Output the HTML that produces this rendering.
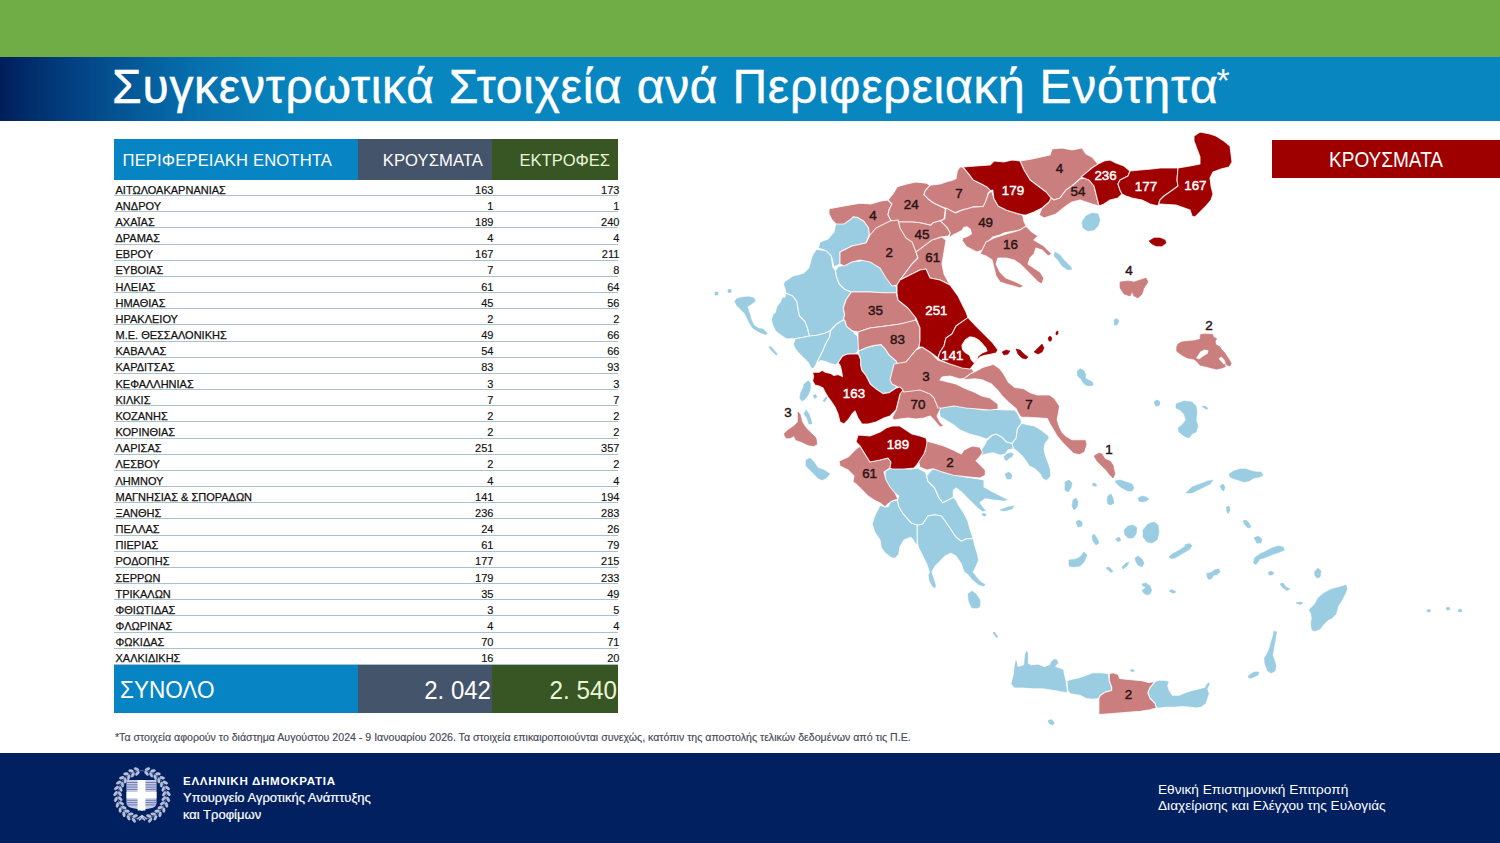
<!DOCTYPE html>
<html><head><meta charset="utf-8">
<style>
*{margin:0;padding:0;box-sizing:border-box}
html,body{width:1500px;height:843px;overflow:hidden;background:#fff;font-family:"Liberation Sans",sans-serif}
#green{position:absolute;left:0;top:0;width:1500px;height:57px;background:#70ad47}
#band{position:absolute;left:0;top:57px;width:1500px;height:63.7px;background:linear-gradient(90deg,#011d5b 0px,#012d6b 30px,#033f80 70px,#044e8e 105px,#055f9e 150px,#0770ae 200px,#0780ba 270px,#0786c0 340px,#0786c0 1500px)}
#title{position:absolute;left:112px;top:59px;font-size:48px;color:#fff;white-space:nowrap;letter-spacing:0.73px;line-height:56px;-webkit-text-stroke:0.45px #fff}
#title sup{font-size:34px;position:relative;top:1px;vertical-align:top;margin-left:-2px;line-height:40px;-webkit-text-stroke:0}
#th{position:absolute;left:114px;top:139px;width:504px;height:41px}
#th div{position:absolute;top:0;height:41px;color:#fff;font-size:16.6px;line-height:43px;white-space:nowrap}
.r{position:absolute;left:114px;width:504px;height:16.17px;border-bottom:1px solid #a9c0ce;font-size:11px;color:#111;line-height:16px}
.r span{position:absolute;top:1.5px}
.r .n{left:1.5px;-webkit-text-stroke:0.25px #111}
.r .a{right:124.6px;text-align:right;-webkit-text-stroke:0.15px #111}
.r .b{right:-1.4px;text-align:right;-webkit-text-stroke:0.15px #111}
#tot{position:absolute;left:114px;top:665px;width:504px;height:48px}
#tot div{position:absolute;top:0;height:48px;color:#fff;line-height:50px;white-space:nowrap}
#note{position:absolute;left:115px;top:731px;font-size:10.6px;color:#454a58;white-space:nowrap;-webkit-text-stroke:0.15px #454a58}
#foot{position:absolute;left:0;top:753px;width:1500px;height:90px;background:#00205f}
#legend{position:absolute;left:1272px;top:140px;width:228px;height:38px;background:#9e0000;}
#legend span{position:absolute;left:1329px;top:0;color:#fff;font-size:21.5px;line-height:40px;white-space:nowrap;transform-origin:0 0;transform:scaleX(0.885);left:57px}
.ft{position:absolute;color:#fff;white-space:nowrap}
#map{position:absolute;left:0;top:0}
</style></head><body>
<div id="green"></div>
<div id="band"></div>
<div id="title">Συγκεντρωτικά Στοιχεία ανά Περιφερειακή Ενότητα<sup>*</sup></div>
<div id="th">
 <div style="left:0;width:244px;background:#0784c3;padding-left:8.5px;letter-spacing:0.15px">ΠΕΡΙΦΕΡΕΙΑΚΗ ΕΝΟΤΗΤΑ</div>
 <div style="left:244px;width:134px;background:#44546a;text-align:right;padding-right:9px;letter-spacing:0.08px">ΚΡΟΥΣΜΑΤΑ</div>
 <div style="left:378px;width:126px;background:#375623;text-align:right;padding-right:8px;color:#eaf5d8;letter-spacing:-0.05px">ΕΚΤΡΟΦΕΣ</div>
</div>
<div class="r" style="top:180.00px"><span class="n">ΑΙΤΩΛΟΑΚΑΡΝΑΝΙΑΣ</span><span class="a">163</span><span class="b">173</span></div>
<div class="r" style="top:196.17px"><span class="n">ΑΝΔΡΟΥ</span><span class="a">1</span><span class="b">1</span></div>
<div class="r" style="top:212.33px"><span class="n">ΑΧΑΪΑΣ</span><span class="a">189</span><span class="b">240</span></div>
<div class="r" style="top:228.50px"><span class="n">ΔΡΑΜΑΣ</span><span class="a">4</span><span class="b">4</span></div>
<div class="r" style="top:244.67px"><span class="n">ΕΒΡΟΥ</span><span class="a">167</span><span class="b">211</span></div>
<div class="r" style="top:260.83px"><span class="n">ΕΥΒΟΙΑΣ</span><span class="a">7</span><span class="b">8</span></div>
<div class="r" style="top:277.00px"><span class="n">ΗΛΕΙΑΣ</span><span class="a">61</span><span class="b">64</span></div>
<div class="r" style="top:293.17px"><span class="n">ΗΜΑΘΙΑΣ</span><span class="a">45</span><span class="b">56</span></div>
<div class="r" style="top:309.33px"><span class="n">ΗΡΑΚΛΕΙΟΥ</span><span class="a">2</span><span class="b">2</span></div>
<div class="r" style="top:325.50px"><span class="n">Μ.Ε. ΘΕΣΣΑΛΟΝΙΚΗΣ</span><span class="a">49</span><span class="b">66</span></div>
<div class="r" style="top:341.67px"><span class="n">ΚΑΒΑΛΑΣ</span><span class="a">54</span><span class="b">66</span></div>
<div class="r" style="top:357.83px"><span class="n">ΚΑΡΔΙΤΣΑΣ</span><span class="a">83</span><span class="b">93</span></div>
<div class="r" style="top:374.00px"><span class="n">ΚΕΦΑΛΛΗΝΙΑΣ</span><span class="a">3</span><span class="b">3</span></div>
<div class="r" style="top:390.17px"><span class="n">ΚΙΛΚΙΣ</span><span class="a">7</span><span class="b">7</span></div>
<div class="r" style="top:406.33px"><span class="n">ΚΟΖΑΝΗΣ</span><span class="a">2</span><span class="b">2</span></div>
<div class="r" style="top:422.50px"><span class="n">ΚΟΡΙΝΘΙΑΣ</span><span class="a">2</span><span class="b">2</span></div>
<div class="r" style="top:438.67px"><span class="n">ΛΑΡΙΣΑΣ</span><span class="a">251</span><span class="b">357</span></div>
<div class="r" style="top:454.83px"><span class="n">ΛΕΣΒΟΥ</span><span class="a">2</span><span class="b">2</span></div>
<div class="r" style="top:471.00px"><span class="n">ΛΗΜΝΟΥ</span><span class="a">4</span><span class="b">4</span></div>
<div class="r" style="top:487.17px"><span class="n">ΜΑΓΝΗΣΙΑΣ &amp; ΣΠΟΡΑΔΩΝ</span><span class="a">141</span><span class="b">194</span></div>
<div class="r" style="top:503.33px"><span class="n">ΞΑΝΘΗΣ</span><span class="a">236</span><span class="b">283</span></div>
<div class="r" style="top:519.50px"><span class="n">ΠΕΛΛΑΣ</span><span class="a">24</span><span class="b">26</span></div>
<div class="r" style="top:535.67px"><span class="n">ΠΙΕΡΙΑΣ</span><span class="a">61</span><span class="b">79</span></div>
<div class="r" style="top:551.83px"><span class="n">ΡΟΔΟΠΗΣ</span><span class="a">177</span><span class="b">215</span></div>
<div class="r" style="top:568.00px"><span class="n">ΣΕΡΡΩΝ</span><span class="a">179</span><span class="b">233</span></div>
<div class="r" style="top:584.17px"><span class="n">ΤΡΙΚΑΛΩΝ</span><span class="a">35</span><span class="b">49</span></div>
<div class="r" style="top:600.33px"><span class="n">ΦΘΙΩΤΙΔΑΣ</span><span class="a">3</span><span class="b">5</span></div>
<div class="r" style="top:616.50px"><span class="n">ΦΛΩΡΙΝΑΣ</span><span class="a">4</span><span class="b">4</span></div>
<div class="r" style="top:632.67px"><span class="n">ΦΩΚΙΔΑΣ</span><span class="a">70</span><span class="b">71</span></div>
<div class="r" style="top:648.83px"><span class="n">ΧΑΛΚΙΔΙΚΗΣ</span><span class="a">16</span><span class="b">20</span></div>
<div id="tot">
 <div style="left:0;width:244px;background:#0784c3;padding-left:6px;font-size:24.5px;"><span style="display:inline-block;transform:scaleX(0.92);transform-origin:0 0">ΣΥΝΟΛΟ</span></div>
 <div style="left:244px;width:134px;background:#44546a;"><span style="position:absolute;right:1px;font-size:25.5px;transform:scaleX(0.94);transform-origin:100% 0">2. 042</span></div>
 <div style="left:378px;width:126px;background:#375623;color:#eaf5d8"><span style="position:absolute;right:1px;font-size:25.5px;transform:scaleX(0.95);transform-origin:100% 0">2. 540</span></div>
</div>
<div id="note">*Τα στοιχεία αφορούν το διάστημα Αυγούστου 2024 - 9 Ιανουαρίου 2026. Τα στοιχεία επικαιροποιούνται συνεχώς, κατόπιν της αποστολής τελικών δεδομένων από τις Π.Ε.</div>
<svg id="map" width="1500" height="843" viewBox="0 0 1500 843">
<g stroke="#fff" stroke-width="1.1" stroke-opacity="0.8" stroke-linejoin="round">
<path d="M836.0,222.0 846.0,219.5 853.3,216.7 857.3,217.3 864.0,221.3 868.7,228.0 869.3,234.7 866.0,243.0 852.0,246.0 840.0,252.0 840.0,264.0 834.0,267.0 832.0,258.0 824.0,250.0 818.0,248.0 820.0,242.0 828.0,239.0 834.0,232.0Z" fill="#9bcde2"/>
<path d="M1082.0,222.0 1086.0,216.0 1092.0,213.0 1098.0,214.0 1100.0,220.0 1098.0,226.0 1094.0,230.0 1088.0,231.0 1083.0,228.0Z" fill="#9bcde2" stroke="#9bcde2" stroke-width="0.6" stroke-opacity="1"/>
<path d="M1055.0,252.0 1060.0,255.0 1064.0,260.0 1070.0,266.0 1072.0,269.0 1068.0,270.0 1062.0,266.0 1058.0,260.0 1054.0,256.0Z" fill="#9bcde2" stroke="#9bcde2" stroke-width="0.6" stroke-opacity="1"/>
<path d="M806.0,410.0 809.0,414.0 811.0,420.0 812.0,424.0 809.0,424.0 807.0,418.0 804.0,414.0Z" fill="#9bcde2" stroke="#9bcde2" stroke-width="0.6" stroke-opacity="1"/>
<path d="M806.0,460.0 810.0,458.0 814.0,462.0 818.0,468.0 824.0,470.0 830.0,474.0 826.0,478.0 822.0,480.0 818.0,478.0 814.0,474.0 810.0,470.0 806.0,466.0Z" fill="#9bcde2" stroke="#9bcde2" stroke-width="0.6" stroke-opacity="1"/>
<path d="M1077.1,371.2 1080.2,368.7 1083.9,370.6 1085.8,374.9 1085.2,378.0 1088.3,379.9 1092.0,381.8 1093.3,384.9 1089.5,386.1 1085.8,384.9 1083.3,383.0 1080.8,378.7 1077.7,376.2Z" fill="#9bcde2" stroke="#9bcde2" stroke-width="0.6" stroke-opacity="1"/>
<path d="M1114.0,320.0 1117.0,318.4 1119.0,321.0 1117.0,325.0 1114.4,325.0Z" fill="#9bcde2" stroke="#9bcde2" stroke-width="0.6" stroke-opacity="1"/>
<path d="M1154.0,402.0 1157.0,400.0 1159.6,402.0 1159.0,405.0 1156.0,406.0Z" fill="#9bcde2" stroke="#9bcde2" stroke-width="0.6" stroke-opacity="1"/>
<path d="M968.0,594.0 972.0,591.0 976.0,594.0 980.0,600.0 980.0,606.0 978.0,608.0 972.0,608.0 969.0,602.0Z" fill="#9bcde2" stroke="#9bcde2" stroke-width="0.6" stroke-opacity="1"/>
<path d="M1005.0,474.0 1009.0,472.0 1012.0,475.0 1011.0,479.0 1007.0,479.0Z" fill="#9bcde2" stroke="#9bcde2" stroke-width="0.6" stroke-opacity="1"/>
<path d="M1000.0,510.0 1008.0,507.0 1014.0,506.0 1012.0,509.0 1004.0,511.0Z" fill="#9bcde2" stroke="#9bcde2" stroke-width="0.6" stroke-opacity="1"/>
<path d="M981.6,514.4 984.0,513.2 986.4,514.8 984.4,516.4Z" fill="#9bcde2" stroke="#9bcde2" stroke-width="0.6" stroke-opacity="1"/>
<path d="M1065.0,482.0 1069.0,480.0 1072.0,483.0 1071.0,488.0 1068.0,492.0 1065.0,490.0Z" fill="#9bcde2" stroke="#9bcde2" stroke-width="0.6" stroke-opacity="1"/>
<path d="M1073.0,500.0 1076.0,498.0 1078.0,502.0 1077.0,507.0 1074.0,510.0 1072.0,506.0Z" fill="#9bcde2" stroke="#9bcde2" stroke-width="0.6" stroke-opacity="1"/>
<path d="M1076.0,522.0 1079.0,520.0 1082.0,522.0 1082.0,526.0 1078.0,527.0Z" fill="#9bcde2" stroke="#9bcde2" stroke-width="0.6" stroke-opacity="1"/>
<path d="M1092.0,536.0 1094.0,534.0 1097.0,538.0 1099.0,543.0 1096.0,545.0 1093.0,541.0Z" fill="#9bcde2" stroke="#9bcde2" stroke-width="0.6" stroke-opacity="1"/>
<path d="M1069.0,560.0 1076.0,559.0 1080.0,557.0 1084.0,552.0 1087.0,555.0 1084.0,562.0 1080.0,566.0 1074.0,567.0 1069.0,566.0Z" fill="#9bcde2" stroke="#9bcde2" stroke-width="0.6" stroke-opacity="1"/>
<path d="M1106.0,568.0 1109.0,567.0 1113.0,571.0 1111.0,572.4Z" fill="#9bcde2" stroke="#9bcde2" stroke-width="0.6" stroke-opacity="1"/>
<path d="M1176.0,404.0 1184.0,401.0 1192.0,402.0 1196.0,406.0 1197.0,412.0 1196.0,420.0 1198.0,426.0 1196.0,432.0 1192.0,434.0 1189.0,438.0 1184.0,436.0 1179.0,432.0 1178.0,428.0 1182.0,425.0 1186.0,420.0 1184.0,414.0 1180.0,410.0 1176.0,408.0Z" fill="#9bcde2" stroke="#9bcde2" stroke-width="0.6" stroke-opacity="1"/>
<path d="M1154.4,402.0 1157.0,400.0 1160.0,402.0 1159.0,405.6 1156.0,406.0Z" fill="#9bcde2" stroke="#9bcde2" stroke-width="0.6" stroke-opacity="1"/>
<path d="M1202.0,406.4 1205.0,406.0 1208.0,408.4 1206.0,409.2Z" fill="#9bcde2" stroke="#9bcde2" stroke-width="0.6" stroke-opacity="1"/>
<path d="M1115.0,481.0 1120.0,480.0 1126.0,482.0 1132.0,484.0 1134.0,488.0 1132.0,491.0 1128.0,491.0 1122.0,488.0 1118.0,485.0Z" fill="#9bcde2" stroke="#9bcde2" stroke-width="0.6" stroke-opacity="1"/>
<path d="M1138.0,498.0 1142.0,496.0 1146.0,497.0 1149.0,499.0 1146.0,501.0 1142.0,502.0 1139.0,501.0Z" fill="#9bcde2" stroke="#9bcde2" stroke-width="0.6" stroke-opacity="1"/>
<path d="M1108.0,496.0 1111.0,494.0 1113.0,498.0 1114.0,503.0 1111.0,505.0 1108.0,504.0 1107.0,500.0Z" fill="#9bcde2" stroke="#9bcde2" stroke-width="0.6" stroke-opacity="1"/>
<path d="M1186.0,493.0 1192.0,487.0 1200.0,484.0 1208.0,481.0 1213.0,480.0 1210.0,484.0 1204.0,487.0 1198.0,490.0 1192.0,493.0Z" fill="#9bcde2" stroke="#9bcde2" stroke-width="0.6" stroke-opacity="1"/>
<path d="M1229.0,474.0 1234.0,471.0 1240.0,469.0 1246.0,469.0 1252.0,471.0 1256.0,472.0 1261.0,472.0 1263.0,475.0 1260.0,477.0 1254.0,478.0 1249.0,481.0 1244.0,482.0 1238.0,480.0 1232.0,478.0 1230.0,477.0Z" fill="#9bcde2" stroke="#9bcde2" stroke-width="0.6" stroke-opacity="1"/>
<path d="M1220.0,486.0 1223.0,484.0 1225.0,487.0 1223.6,491.0 1221.6,489.6Z" fill="#9bcde2" stroke="#9bcde2" stroke-width="0.6" stroke-opacity="1"/>
<path d="M1226.4,507.0 1229.0,506.0 1230.0,510.0 1228.4,513.6 1227.0,512.0Z" fill="#9bcde2" stroke="#9bcde2" stroke-width="0.6" stroke-opacity="1"/>
<path d="M1243.0,521.0 1246.0,520.0 1249.0,523.0 1251.0,527.0 1248.0,528.0 1245.0,525.0Z" fill="#9bcde2" stroke="#9bcde2" stroke-width="0.6" stroke-opacity="1"/>
<path d="M1124.0,530.0 1128.0,526.0 1133.0,525.0 1137.0,528.0 1136.0,534.0 1133.0,538.0 1128.0,538.0 1125.0,535.0Z" fill="#9bcde2" stroke="#9bcde2" stroke-width="0.6" stroke-opacity="1"/>
<path d="M1115.6,539.0 1119.0,537.0 1121.0,540.0 1118.0,542.0Z" fill="#9bcde2" stroke="#9bcde2" stroke-width="0.6" stroke-opacity="1"/>
<path d="M1185.0,545.0 1189.0,543.6 1192.0,546.0 1189.0,548.0 1185.6,547.6Z" fill="#9bcde2" stroke="#9bcde2" stroke-width="0.6" stroke-opacity="1"/>
<path d="M1092.0,484.0 1095.0,483.0 1097.0,485.6 1094.0,486.4Z" fill="#9bcde2" stroke="#9bcde2" stroke-width="0.6" stroke-opacity="1"/>
<path d="M1143.0,530.0 1148.0,524.0 1154.0,522.0 1158.0,525.0 1159.0,532.0 1157.0,540.0 1152.0,543.0 1147.0,542.0 1143.0,537.0Z" fill="#9bcde2" stroke="#9bcde2" stroke-width="0.6" stroke-opacity="1"/>
<path d="M1169.0,557.0 1172.0,554.0 1178.0,551.0 1184.0,547.0 1189.0,544.0 1191.6,545.6 1190.0,549.0 1185.0,552.0 1180.0,555.0 1175.0,558.0 1171.0,558.4Z" fill="#9bcde2" stroke="#9bcde2" stroke-width="0.6" stroke-opacity="1"/>
<path d="M1135.0,558.0 1138.0,556.0 1142.0,559.0 1144.0,563.0 1142.0,567.0 1138.0,565.0 1136.0,562.0Z" fill="#9bcde2" stroke="#9bcde2" stroke-width="0.6" stroke-opacity="1"/>
<path d="M1122.0,567.0 1126.0,563.0 1129.0,562.0 1127.0,566.0 1123.0,569.0Z" fill="#9bcde2" stroke="#9bcde2" stroke-width="0.6" stroke-opacity="1"/>
<path d="M1142.0,584.0 1146.0,583.0 1150.0,586.0 1151.6,590.0 1150.4,593.6 1147.0,595.0 1143.6,593.0 1142.0,590.0 1144.4,589.0 1145.6,587.0 1143.0,586.0Z" fill="#9bcde2" stroke="#9bcde2" stroke-width="0.6" stroke-opacity="1"/>
<path d="M1169.0,591.0 1172.0,589.6 1176.0,592.0 1173.0,593.2Z" fill="#9bcde2" stroke="#9bcde2" stroke-width="0.6" stroke-opacity="1"/>
<path d="M1206.0,573.0 1211.0,571.6 1215.0,569.0 1219.0,568.0 1221.0,572.0 1218.0,575.0 1214.0,576.0 1211.6,579.6 1208.0,580.0 1206.4,577.0Z" fill="#9bcde2"/>
<path d="M1253.6,563.0 1254.4,558.0 1260.0,554.0 1266.0,551.0 1272.0,548.0 1278.0,546.0 1283.0,547.0 1284.4,550.0 1280.0,552.0 1274.0,554.0 1269.0,556.0 1264.0,558.0 1260.0,559.0 1258.0,562.0 1256.0,564.4Z" fill="#9bcde2" stroke="#9bcde2" stroke-width="0.6" stroke-opacity="1"/>
<path d="M1254.0,538.0 1258.0,536.0 1262.0,539.0 1261.0,543.0 1257.0,543.0Z" fill="#9bcde2" stroke="#9bcde2" stroke-width="0.6" stroke-opacity="1"/>
<path d="M1268.4,572.4 1271.0,571.0 1274.0,573.0 1272.0,575.0 1269.0,575.0Z" fill="#9bcde2" stroke="#9bcde2" stroke-width="0.6" stroke-opacity="1"/>
<path d="M1280.0,584.0 1283.0,583.0 1286.0,587.0 1290.0,589.0 1287.0,590.4 1283.0,588.0Z" fill="#9bcde2" stroke="#9bcde2" stroke-width="0.6" stroke-opacity="1"/>
<path d="M1314.4,572.0 1318.0,568.0 1321.0,571.0 1320.0,577.0 1317.0,578.0 1315.0,575.6Z" fill="#9bcde2" stroke="#9bcde2" stroke-width="0.6" stroke-opacity="1"/>
<path d="M1296.0,603.0 1300.0,602.0 1303.0,603.0 1300.0,604.4Z" fill="#9bcde2" stroke="#9bcde2" stroke-width="0.6" stroke-opacity="1"/>
<path d="M1309.0,610.0 1315.0,604.0 1318.0,598.0 1324.0,593.0 1332.0,589.0 1340.0,587.0 1346.0,585.0 1347.0,589.0 1345.0,594.0 1342.0,600.0 1338.0,606.0 1336.0,614.0 1332.0,618.0 1328.0,620.0 1324.0,624.0 1320.0,629.0 1315.0,631.0 1312.0,630.0 1311.0,624.0 1312.0,618.0 1311.0,613.0Z" fill="#9bcde2" stroke="#9bcde2" stroke-width="0.6" stroke-opacity="1"/>
<path d="M1274.0,631.0 1276.4,632.0 1275.6,638.0 1274.4,644.0 1273.6,650.0 1272.4,655.0 1274.4,660.0 1276.0,666.0 1275.0,671.0 1271.0,673.0 1267.6,671.0 1265.0,664.0 1264.4,658.0 1267.6,653.0 1269.6,648.0 1271.2,642.0 1273.0,636.0Z" fill="#9bcde2" stroke="#9bcde2" stroke-width="0.6" stroke-opacity="1"/>
<path d="M1248.0,676.0 1254.0,672.0 1259.0,672.0 1258.0,675.0 1252.0,678.0 1249.0,678.0Z" fill="#9bcde2" stroke="#9bcde2" stroke-width="0.6" stroke-opacity="1"/>
<path d="M1010.8,684.1 1013.2,674.4 1014.0,666.4 1015.6,658.4 1017.2,661.6 1018.0,666.4 1023.6,664.8 1024.4,655.2 1026.0,650.4 1028.4,652.0 1028.4,663.2 1031.6,664.8 1038.0,664.0 1044.4,666.4 1049.2,664.8 1050.8,661.6 1054.1,658.4 1057.3,659.2 1058.9,663.2 1055.7,666.4 1060.5,668.0 1063.7,669.6 1064.5,674.4 1066.1,680.8 1066.9,687.3 1067.7,692.9 1062.1,692.1 1054.1,690.5 1042.8,688.9 1033.2,688.9 1022.0,688.1 1014.0,688.1Z" fill="#9bcde2"/>
<path d="M1066.9,680.8 1071.7,679.2 1079.7,677.6 1086.1,675.2 1092.5,672.8 1102.1,672.8 1108.5,673.6 1109.3,680.8 1111.7,687.3 1111.7,690.5 1105.3,692.1 1100.5,695.3 1098.9,698.5 1092.5,699.3 1086.1,698.5 1079.7,695.3 1070.1,693.7 1067.7,690.5Z" fill="#9bcde2"/>
<path d="M1154.9,681.6 1159.7,680.0 1166.1,680.5 1169.3,681.6 1167.7,685.7 1169.3,690.5 1172.5,695.3 1179.0,695.3 1187.0,692.1 1191.8,690.5 1198.2,688.9 1204.6,687.3 1206.2,684.1 1209.4,681.6 1210.2,684.1 1207.8,688.9 1209.4,693.7 1207.8,698.5 1206.2,703.3 1201.4,707.3 1196.6,708.1 1190.2,707.3 1182.2,706.5 1174.1,707.3 1166.1,707.3 1159.7,708.1 1156.5,708.1 1154.9,703.3 1150.1,698.5 1147.7,692.9 1150.1,687.3Z" fill="#9bcde2"/>
<path d="M1048.0,720.6 1051.6,719.6 1054.4,722.8 1052.8,725.0 1049.6,723.8Z" fill="#9bcde2" stroke="#9bcde2" stroke-width="0.6" stroke-opacity="1"/>
<path d="M1130.3,670.0 1132.8,669.3 1134.4,670.9 1132.2,671.9Z" fill="#9bcde2" stroke="#9bcde2" stroke-width="0.6" stroke-opacity="1"/>
<path d="M992.9,632.8 994.8,632.2 997.7,636.7 996.4,637.6Z" fill="#9bcde2" stroke="#9bcde2" stroke-width="0.6" stroke-opacity="1"/>
<path d="M1446.0,608.0 1449.0,607.0 1450.0,609.5 1447.0,610.0Z" fill="#9bcde2" stroke="#9bcde2" stroke-width="0.6" stroke-opacity="1"/>
<path d="M1458.0,610.0 1461.0,609.0 1462.0,611.5 1459.0,612.0Z" fill="#9bcde2" stroke="#9bcde2" stroke-width="0.6" stroke-opacity="1"/>
<path d="M1427.0,610.0 1430.0,609.5 1430.5,611.5 1427.5,612.0Z" fill="#9bcde2" stroke="#9bcde2" stroke-width="0.6" stroke-opacity="1"/>
<path d="M813.0,395.5 815.5,394.5 817.0,397.0 814.5,398.5Z" fill="#9bcde2" stroke="#9bcde2" stroke-width="0.6" stroke-opacity="1"/>
<path d="M823.0,401.0 825.5,397.5 827.5,397.0 825.0,401.5Z" fill="#9bcde2" stroke="#9bcde2" stroke-width="0.6" stroke-opacity="1"/>
<path d="M816.7,249.3 826.0,250.7 831.3,256.0 832.7,266.7 835.3,270.7 836.7,277.3 839.3,284.0 844.7,289.3 851.3,292.0 846.0,300.0 843.3,308.0 844.7,314.7 843.3,320.0 836.7,324.0 830.0,330.7 824.7,333.3 816.7,335.3 809.3,336.0 807.3,328.0 804.7,321.3 799.3,316.0 798.0,309.3 796.7,301.3 792.7,296.0 786.0,293.3 784.7,288.0 783.3,284.0 784.7,281.3 788.7,278.7 792.7,276.0 798.0,274.7 803.3,273.3 806.0,270.7 808.7,268.0 810.0,264.0 811.3,258.7 812.7,254.7 815.3,250.7Z" fill="#9bcde2"/>
<path d="M786.0,293.3 792.7,296.0 796.7,301.3 798.0,309.3 799.3,316.0 804.7,321.3 807.3,328.0 809.3,336.0 803.3,337.3 795.3,338.7 786.0,338.7 782.0,336.0 778.0,333.3 775.3,330.7 772.7,325.3 771.3,320.0 772.7,314.7 775.3,312.0 776.7,306.7 780.7,301.3 782.0,297.3 784.7,297.3Z" fill="#9bcde2"/>
<path d="M835.3,270.7 836.7,277.3 839.3,284.0 844.7,289.3 851.3,292.0 870.0,292.0 883.3,292.7 896.7,292.7 896.7,286.7 894.0,285.3 890.0,280.0 887.3,273.3 882.0,266.7 876.7,262.7 870.0,260.0 864.7,260.0 859.3,261.3 854.0,261.3 848.7,262.7 843.3,265.3 838.0,266.7Z" fill="#9bcde2"/>
<path d="M795.3,338.7 803.3,337.3 809.3,336.0 816.7,335.3 824.7,333.3 830.7,330.7 829.6,337.1 825.4,344.5 823.2,349.9 821.1,354.2 819.0,358.4 816.8,362.7 814.7,367.0 812.6,369.1 810.4,367.0 808.3,362.7 804.0,358.4 800.8,355.2 797.6,352.0 794.4,347.7 793.4,343.5Z" fill="#9bcde2"/>
<path d="M830.7,330.7 836.7,324.0 843.3,320.0 844.6,320.0 846.7,326.4 852.1,330.7 857.4,336.0 858.5,341.3 859.5,346.7 857.4,352.0 855.3,353.6 846.7,354.2 842.5,356.3 838.2,362.7 836.0,364.8 830.7,363.8 825.4,361.6 821.1,360.6 816.8,362.7 819.0,358.4 821.1,354.2 823.2,349.9 825.4,344.5 829.6,337.1Z" fill="#9bcde2"/>
<path d="M858.5,351.0 865.9,347.7 873.4,345.6 880.9,344.5 885.1,348.8 889.4,355.2 895.8,360.6 898.0,364.8 893.7,369.1 894.7,375.5 896.9,381.9 895.8,388.3 889.4,392.6 883.0,393.6 876.6,389.4 870.2,384.0 868.1,379.8 865.9,375.5 861.7,370.2 860.6,364.8 860.6,359.5 858.5,354.2Z" fill="#9bcde2"/>
<path d="M804.0,384.0 808.3,380.8 810.4,383.0 810.4,389.4 808.3,394.7 805.1,399.0 801.9,401.1 799.8,397.9 800.8,392.6 803.0,388.3Z" fill="#9bcde2" stroke="#9bcde2" stroke-width="0.6" stroke-opacity="1"/>
<path d="M768.8,346.7 771.0,346.7 777.4,354.2 776.3,355.2 772.0,351.0Z" fill="#9bcde2" stroke="#9bcde2" stroke-width="0.6" stroke-opacity="1"/>
<path d="M734.7,301.3 736.7,298.7 742.0,297.3 748.7,296.7 754.0,298.0 755.3,301.3 751.3,304.0 747.3,306.7 748.7,310.7 750.0,314.7 751.3,320.0 754.0,325.3 758.0,328.0 763.3,329.3 767.3,333.3 766.0,334.7 762.0,333.3 756.7,330.7 752.7,328.0 750.0,324.0 747.3,318.7 744.7,313.3 739.3,308.0 736.7,305.3Z" fill="#9bcde2" stroke="#9bcde2" stroke-width="0.6" stroke-opacity="1"/>
<path d="M715.0,292.0 718.0,292.0 718.0,295.0 715.0,295.0Z" fill="#9bcde2" stroke="#9bcde2" stroke-width="0.6" stroke-opacity="1"/>
<path d="M728.0,289.5 731.0,289.5 731.0,292.5 728.0,292.5Z" fill="#9bcde2" stroke="#9bcde2" stroke-width="0.6" stroke-opacity="1"/>
<path d="M1017.3,428.7 1021.3,423.3 1028.0,424.7 1034.7,426.0 1041.3,430.0 1048.0,435.3 1049.3,438.0 1045.3,443.3 1044.0,448.7 1045.3,455.3 1048.0,462.0 1050.7,470.0 1050.7,476.7 1046.7,480.7 1042.7,478.7 1040.0,474.0 1034.7,468.7 1029.3,466.0 1026.7,462.0 1022.7,456.7 1017.3,451.3 1013.3,448.7 1012.0,443.3 1016.0,438.0Z" fill="#9bcde2"/>
<path d="M992.0,435.3 996.0,434.0 1001.3,436.7 1006.7,442.0 1012.0,443.3 1013.3,448.7 1008.0,450.0 1005.3,454.0 1000.0,455.3 993.3,452.7 986.7,454.0 981.3,455.3 980.0,451.3 984.0,446.0 986.7,440.7Z" fill="#9bcde2"/>
<path d="M938.7,407.3 953.3,406.0 961.3,403.3 969.3,407.3 982.7,410.0 993.3,409.3 1006.7,410.0 1014.7,410.0 1017.3,412.7 1021.3,420.7 1021.3,423.3 1017.3,428.7 1016.0,438.0 1012.0,443.3 1006.7,442.0 1001.3,436.7 996.0,434.0 992.0,435.3 986.7,439.3 980.0,436.7 969.3,434.0 960.0,430.0 953.3,424.7 946.7,420.7 940.0,416.7Z" fill="#9bcde2"/>
<path d="M1004.0,456.7 1006.7,454.0 1010.7,452.7 1013.3,454.0 1012.0,456.7 1009.3,458.0 1006.7,460.7 1004.7,459.3Z" fill="#9bcde2" stroke="#9bcde2" stroke-width="0.6" stroke-opacity="1"/>
<path d="M885.3,470.7 892.0,468.0 900.0,468.0 910.7,469.3 917.3,468.0 925.3,472.0 926.7,476.0 928.0,481.3 934.7,488.0 938.7,497.3 942.7,502.7 948.0,500.0 953.3,497.3 956.0,500.0 958.7,505.3 964.0,513.3 968.0,521.3 969.3,526.7 972.0,534.7 973.3,538.7 966.7,538.7 961.3,541.3 956.0,537.3 950.7,529.3 945.3,521.3 941.3,516.0 934.7,514.7 928.0,516.0 922.7,524.0 917.3,525.3 910.7,522.7 902.7,513.3 898.7,506.7 897.3,500.0 898.7,496.0 893.3,492.0 886.7,486.7 884.7,478.7Z" fill="#9bcde2"/>
<path d="M926.7,476.0 932.0,469.3 937.3,468.0 942.7,472.0 953.3,474.7 966.7,477.3 977.3,478.7 984.0,480.0 984.0,486.7 990.7,490.7 998.7,494.7 1006.7,498.7 1009.3,500.0 1004.0,501.3 993.3,500.0 985.3,498.7 980.0,502.7 984.0,508.0 986.7,510.7 982.7,512.0 977.3,508.0 972.0,502.7 966.7,497.3 961.3,492.0 956.0,488.0 953.3,490.7 953.3,497.3 948.0,500.0 942.7,502.7 938.7,497.3 934.7,488.0 928.0,481.3Z" fill="#9bcde2"/>
<path d="M880.0,505.3 874.7,516.0 872.0,524.0 874.7,532.0 880.0,540.0 881.3,548.0 885.3,553.3 890.7,557.3 894.7,558.7 898.7,554.7 900.0,546.7 904.0,540.0 910.7,537.3 913.3,540.0 916.0,545.3 917.3,542.7 917.3,534.7 917.3,525.3 910.7,522.7 902.7,513.3 898.7,506.7 897.3,500.0 890.7,501.3 888.0,506.7 885.3,506.7Z" fill="#9bcde2"/>
<path d="M917.3,525.3 922.7,524.0 928.0,516.0 934.7,514.7 941.3,516.0 945.3,521.3 950.7,529.3 956.0,537.3 961.3,541.3 966.7,538.7 973.3,538.7 974.7,545.3 977.3,553.3 978.7,560.0 976.0,566.7 973.3,572.0 978.0,578.0 982.0,582.0 986.0,584.0 984.0,587.0 978.0,585.0 972.0,580.0 968.0,575.0 964.0,572.0 961.3,564.0 956.0,556.0 950.7,553.3 945.3,556.0 940.0,561.3 934.7,566.7 932.0,572.0 934.0,578.0 936.0,584.0 936.0,589.0 932.0,587.0 929.0,581.0 928.0,575.0 929.3,572.0 926.7,564.0 922.7,556.0 918.7,548.0 917.3,542.7 917.3,534.7Z" fill="#9bcde2"/>
<path d="M829.3,208.7 844.0,206.0 860.0,203.3 870.7,204.0 880.0,201.3 888.0,200.0 892.0,204.0 889.3,209.3 888.0,214.7 890.7,220.0 893.3,221.3 888.0,223.3 881.3,227.3 874.7,236.0 869.3,234.7 868.7,228.0 864.0,221.3 857.3,217.3 853.3,216.7 850.7,219.3 844.0,224.0 836.0,224.0 832.0,220.0 828.7,213.3Z" fill="#cb7e7e"/>
<path d="M888.0,200.0 893.3,193.3 897.3,186.7 906.7,184.0 916.0,182.0 926.7,183.3 930.0,185.3 925.3,190.7 924.0,194.7 928.0,198.7 933.3,202.7 940.0,206.0 945.3,208.7 944.7,214.7 944.0,219.3 940.0,220.7 933.3,222.7 930.7,225.3 920.0,222.7 912.0,222.0 898.7,222.0 893.3,221.3 890.7,220.0 888.0,214.7 889.3,209.3 892.0,204.0Z" fill="#cb7e7e"/>
<path d="M930.0,185.3 940.0,184.0 948.0,181.3 950.7,180.7 956.0,178.7 957.3,170.7 960.0,166.7 963.3,167.3 969.3,174.7 973.3,180.0 980.0,183.3 986.7,186.7 990.7,190.7 988.0,193.3 986.7,200.0 984.0,206.7 973.3,206.7 972.0,209.3 964.0,209.3 954.7,212.7 946.7,208.7 940.0,206.0 933.3,202.7 928.0,198.7 924.0,194.7 925.3,190.7Z" fill="#cb7e7e"/>
<path d="M898.7,222.0 912.0,222.0 920.0,222.7 930.7,225.3 933.3,222.7 940.0,220.7 944.0,222.7 950.7,233.3 948.0,236.0 940.0,237.3 933.3,240.0 928.0,245.3 925.3,250.7 921.3,254.7 917.3,253.3 913.3,252.0 912.0,246.7 909.3,241.3 904.0,240.0 900.0,237.3 898.7,230.7Z" fill="#cb7e7e"/>
<path d="M870.0,235.0 876.0,228.0 890.0,221.0 898.0,220.0 900.0,228.0 906.0,238.0 912.0,242.0 916.0,252.0 918.0,258.0 912.0,264.0 906.0,272.0 900.0,280.0 897.0,285.0 892.0,286.0 886.0,278.0 880.0,268.0 870.0,262.0 860.0,260.0 852.0,262.0 844.0,266.0 840.0,264.0 840.0,252.0 852.0,246.0 866.0,243.0 869.0,237.0Z" fill="#cb7e7e"/>
<path d="M851.3,292.0 870.0,292.0 883.3,292.7 896.7,292.7 897.0,296.0 898.0,300.0 908.0,308.0 916.0,318.0 914.0,322.0 900.0,324.0 886.0,326.0 870.0,328.0 858.0,332.0 852.1,330.7 846.7,326.4 844.6,320.0 843.3,320.0 844.7,314.7 843.3,308.0 846.0,300.0Z" fill="#cb7e7e"/>
<path d="M858.0,332.0 870.0,328.0 886.0,326.0 900.0,324.0 916.0,320.0 920.0,328.0 920.0,340.0 919.0,347.0 916.0,350.0 906.0,362.0 898.0,364.8 895.8,360.6 889.4,355.2 885.1,348.8 880.9,344.5 873.4,345.6 865.9,347.7 858.5,351.0 858.0,340.0Z" fill="#cb7e7e"/>
<path d="M916.0,252.0 924.0,246.0 932.0,240.0 942.0,237.0 946.0,240.0 944.0,252.0 942.0,264.0 944.0,274.0 950.0,285.0 940.0,280.0 930.0,278.0 926.0,269.0 920.0,270.0 912.0,274.0 900.0,280.0 906.0,272.0 912.0,264.0 918.0,258.0Z" fill="#cb7e7e"/>
<path d="M1020.0,161.0 1032.0,159.0 1050.0,155.0 1052.0,149.0 1062.0,148.0 1072.0,150.0 1082.0,148.0 1086.0,154.0 1092.0,157.0 1098.0,164.0 1092.0,168.0 1084.0,176.0 1080.0,179.0 1072.0,186.0 1066.0,190.0 1060.0,198.0 1054.0,200.0 1051.0,198.0 1046.0,192.0 1038.0,186.0 1030.0,180.0 1024.0,170.0Z" fill="#cb7e7e"/>
<path d="M1054.0,200.0 1060.0,198.0 1066.0,190.0 1072.0,186.0 1080.0,179.0 1084.0,178.0 1089.0,180.0 1094.0,186.0 1096.0,194.0 1099.0,206.0 1092.0,204.0 1080.0,200.0 1072.0,202.0 1066.0,206.0 1056.0,214.0 1044.0,218.0 1039.0,215.0 1042.0,208.0 1049.0,202.0 1051.0,198.0Z" fill="#cb7e7e"/>
<path d="M1120.0,282.0 1128.0,281.0 1134.0,282.0 1140.0,280.0 1146.0,278.0 1148.0,282.0 1144.0,288.0 1142.0,294.0 1138.0,298.0 1134.0,296.0 1132.0,292.0 1130.0,296.0 1124.0,294.0 1120.0,288.0Z" fill="#cb7e7e" stroke="#cb7e7e" stroke-width="0.6" stroke-opacity="1"/>
<path d="M945.9,208.1 955.5,212.9 961.9,210.3 972.6,207.1 983.2,206.5 985.4,201.7 988.6,193.2 991.8,191.1 993.9,198.5 998.2,206.0 1006.7,210.3 1017.4,213.5 1022.7,215.1 1023.8,221.0 1027.0,227.4 1017.4,230.6 1004.6,232.7 1000.3,234.8 992.8,237.0 988.6,241.2 987.5,246.6 983.2,249.8 976.8,251.9 970.4,248.7 966.2,246.6 961.9,240.2 963.0,238.0 968.3,235.9 971.5,233.8 970.4,229.5 967.2,226.8 964.0,227.4 961.9,230.6 957.6,232.7 953.4,234.8 950.2,237.0 949.1,237.0 950.2,232.7 947.0,227.4 940.6,221.0 944.8,218.8Z" fill="#cb7e7e"/>
<path d="M986.0,242.0 994.0,238.0 1006.0,234.0 1020.0,230.0 1026.0,226.0 1032.0,232.0 1038.0,236.0 1034.0,240.0 1044.0,246.0 1048.0,250.0 1052.0,254.0 1048.0,256.0 1042.0,250.0 1036.0,248.0 1034.0,254.0 1030.0,258.0 1028.0,264.0 1034.0,268.0 1040.0,272.0 1044.0,278.0 1042.0,284.0 1038.0,282.0 1032.0,276.0 1026.0,270.0 1020.0,264.0 1014.0,260.0 1006.0,258.0 998.0,258.0 996.0,264.0 1000.0,272.0 1006.0,278.0 1016.0,282.0 1024.0,286.0 1020.0,288.0 1006.0,284.0 1000.0,282.0 996.0,276.0 994.0,268.0 992.0,260.0 986.0,256.0 980.0,254.0Z" fill="#cb7e7e"/>
<path d="M900.0,388.0 908.0,390.0 916.0,389.0 924.0,389.0 932.0,391.0 937.0,396.0 938.0,402.0 941.0,407.0 940.0,410.0 937.0,416.0 940.0,422.0 944.0,426.0 940.0,427.0 934.0,420.0 930.0,416.0 924.0,418.0 916.0,419.0 908.0,418.0 900.0,419.0 894.0,420.0 892.0,418.0 896.0,410.0 898.0,402.0 900.0,394.0Z" fill="#cb7e7e"/>
<path d="M798.0,412.0 800.0,414.0 802.0,422.0 806.0,428.0 812.0,434.0 816.0,438.0 817.0,444.0 814.0,446.0 808.0,445.0 802.0,442.0 796.0,440.0 794.0,436.0 790.0,438.0 786.0,438.0 784.0,434.0 788.0,430.0 794.0,426.0 798.0,422.0Z" fill="#cb7e7e" stroke="#cb7e7e" stroke-width="0.6" stroke-opacity="1"/>
<path d="M894.0,364.0 906.0,362.0 916.0,350.0 922.0,347.0 930.0,352.0 938.0,360.0 950.0,364.0 962.0,367.0 972.0,369.0 974.0,372.0 966.0,378.0 960.0,379.0 950.0,376.0 942.0,377.0 940.0,380.0 948.0,382.0 956.0,384.0 964.0,388.0 974.0,392.0 982.0,396.0 990.0,398.0 998.0,404.0 998.0,409.0 990.0,410.0 978.0,409.0 966.0,408.0 954.0,406.0 942.0,408.0 938.0,408.0 934.0,398.0 930.0,394.0 920.0,390.0 912.0,391.0 904.0,392.0 900.0,388.0 892.0,384.0 890.0,380.0Z" fill="#cb7e7e"/>
<path d="M962.5,379.9 970.0,374.0 976.2,371.0 982.4,367.5 993.6,364.3 999.8,368.7 1003.6,373.7 1008.6,382.4 1014.8,387.4 1023.5,388.6 1029.7,392.4 1037.2,394.9 1049.7,394.9 1054.6,398.6 1059.6,406.1 1058.4,413.6 1057.1,419.8 1059.6,427.3 1062.1,432.2 1065.9,436.0 1072.1,439.7 1079.6,439.7 1085.8,439.7 1087.0,444.7 1084.5,452.2 1079.6,454.7 1073.3,453.4 1067.1,447.2 1062.1,442.2 1057.1,436.0 1053.4,429.7 1049.7,423.5 1047.2,418.5 1037.2,417.9 1027.2,417.3 1021.0,417.3 1018.5,413.6 1016.0,408.6 1008.6,402.3 1002.3,396.1 997.3,389.9 991.1,383.7 982.4,379.9 975.0,378.7Z" fill="#cb7e7e"/>
<path d="M839.0,461.0 848.0,457.0 856.0,449.0 860.0,446.0 865.0,454.0 870.0,462.0 880.0,460.0 888.0,458.0 891.0,462.0 890.0,468.0 884.0,472.0 886.0,480.0 890.0,487.0 895.0,493.0 898.0,499.0 892.0,501.0 888.0,504.0 885.0,507.0 880.0,503.0 874.0,500.0 868.0,496.0 862.0,490.0 856.0,484.0 853.0,482.0 854.0,476.0 848.0,470.0 840.0,466.0Z" fill="#cb7e7e"/>
<path d="M1094.0,456.0 1099.0,453.0 1102.0,454.0 1105.0,459.0 1110.0,461.0 1113.0,465.0 1114.0,470.0 1115.0,474.0 1113.0,478.0 1110.0,475.0 1106.0,470.0 1102.0,466.0 1097.0,461.0Z" fill="#cb7e7e" stroke="#cb7e7e" stroke-width="0.6" stroke-opacity="1"/>
<path d="M1109.3,673.6 1113.3,672.8 1118.1,674.4 1119.7,678.4 1126.1,679.2 1134.1,680.0 1142.1,680.8 1148.5,682.4 1154.9,681.6 1150.1,687.3 1147.7,692.9 1150.1,698.5 1154.9,703.3 1156.5,708.1 1150.1,709.7 1140.5,711.3 1130.9,712.1 1121.3,712.9 1110.1,713.7 1098.9,714.5 1098.9,706.5 1098.9,698.5 1100.5,695.3 1105.3,692.1 1111.7,690.5 1111.7,687.3 1109.3,680.8Z" fill="#cb7e7e"/>
<path d="M1176.7,346.7 1178.0,344.0 1181.3,342.0 1186.7,341.3 1193.3,340.7 1200.0,339.3 1200.3,334.7 1203.3,334.0 1212.7,334.3 1213.3,336.7 1216.7,338.7 1215.3,341.3 1216.0,344.7 1220.0,346.7 1221.3,349.3 1224.7,352.7 1226.7,356.0 1228.7,358.7 1231.3,363.3 1230.0,366.0 1227.3,365.3 1224.7,363.3 1225.3,366.7 1222.0,368.0 1216.7,369.3 1211.3,368.0 1206.7,366.7 1200.0,365.3 1196.7,361.3 1194.0,359.3 1191.3,358.7 1187.3,358.0 1183.3,356.0 1179.3,353.3 1176.7,351.3Z" fill="#cb7e7e" stroke="#cb7e7e" stroke-width="0.6" stroke-opacity="1"/>
<path d="M925.3,440.7 934.7,443.3 944.0,446.0 953.3,450.0 961.3,454.0 964.0,450.0 972.0,446.0 980.0,447.3 982.7,452.7 978.7,458.0 976.0,460.7 980.0,464.7 985.3,470.0 985.3,475.3 980.0,478.0 966.7,476.7 953.3,475.3 940.0,471.3 933.3,468.7 926.7,470.0 920.0,467.3 918.7,462.0 920.0,454.0 925.3,451.3Z" fill="#cb7e7e"/>
<path d="M897.0,285.0 900.0,280.0 912.0,274.0 920.0,270.0 926.0,269.0 930.0,278.0 940.0,280.0 950.0,285.0 958.0,296.0 966.0,312.0 968.0,317.6 956.0,326.0 952.0,334.0 946.0,338.0 944.0,346.0 940.0,352.0 938.0,358.0 930.0,352.0 922.0,347.0 919.0,347.0 920.0,340.0 920.0,328.0 916.0,318.0 908.0,308.0 898.0,300.0 897.0,293.0Z" fill="#a10000"/>
<path d="M963.0,167.0 976.0,166.0 990.0,165.0 994.0,161.0 1004.0,162.0 1012.0,160.0 1020.0,161.0 1024.0,170.0 1030.0,180.0 1038.0,186.0 1046.0,192.0 1051.0,198.0 1049.0,202.0 1042.0,208.0 1034.0,212.0 1026.0,215.0 1022.7,214.7 1017.4,213.5 1006.7,210.3 998.2,206.0 993.9,198.5 992.8,190.0 990.7,190.7 986.7,186.7 980.0,183.3 973.3,180.0 969.3,174.7 963.3,167.3Z" fill="#a10000"/>
<path d="M1081.0,177.0 1092.0,168.0 1098.0,164.0 1104.0,161.0 1110.0,160.0 1116.0,163.0 1124.0,166.0 1130.0,171.0 1128.0,176.0 1120.0,180.0 1118.0,184.0 1120.0,190.0 1122.0,194.0 1118.0,198.0 1110.0,200.0 1104.0,204.0 1099.0,206.0 1096.0,194.0 1094.0,186.0 1089.0,180.0Z" fill="#a10000"/>
<path d="M1130.0,171.0 1140.0,170.0 1152.0,169.0 1160.0,168.0 1170.0,168.0 1178.0,168.0 1177.0,180.0 1178.0,186.0 1174.0,189.0 1164.0,196.0 1160.0,200.0 1158.0,206.0 1150.0,204.0 1142.0,200.0 1132.0,198.0 1126.0,196.0 1122.0,194.0 1120.0,190.0 1118.0,184.0 1120.0,180.0 1128.0,176.0Z" fill="#a10000"/>
<path d="M1178.0,168.0 1190.0,166.0 1200.0,164.0 1200.0,157.0 1197.0,149.0 1194.0,141.0 1194.0,136.0 1200.0,132.0 1210.0,134.0 1216.0,136.0 1224.0,141.0 1230.0,146.0 1231.0,154.0 1232.0,162.0 1229.0,167.0 1221.0,169.0 1213.0,172.0 1210.0,178.0 1211.0,186.0 1213.0,194.0 1211.0,200.0 1205.0,207.0 1200.0,212.0 1195.0,217.0 1192.0,216.0 1190.0,210.0 1176.0,205.0 1160.0,204.0 1158.0,206.0 1160.0,200.0 1164.0,196.0 1174.0,189.0 1178.0,186.0 1177.0,180.0Z" fill="#a10000"/>
<path d="M1149.0,241.0 1154.0,238.0 1160.0,238.0 1165.0,240.0 1166.0,243.0 1162.0,246.0 1156.0,246.0 1152.0,244.0Z" fill="#a10000" stroke="#a10000" stroke-width="0.6" stroke-opacity="1"/>
<path d="M858.0,435.0 870.0,436.0 880.0,432.0 886.0,428.0 892.0,426.0 900.0,426.0 906.0,430.0 912.0,434.0 920.0,436.0 926.0,438.0 927.0,442.0 926.0,448.0 924.0,454.0 920.0,460.0 916.0,466.0 914.0,468.0 904.0,469.0 892.0,469.0 890.0,468.0 891.0,462.0 888.0,458.0 880.0,460.0 870.0,462.0 865.0,454.0 860.0,446.0 856.0,442.0Z" fill="#a10000"/>
<path d="M1002.0,352.0 1006.0,350.0 1010.0,351.0 1008.0,354.0 1004.0,355.0Z" fill="#a10000" stroke="#a10000" stroke-width="0.6" stroke-opacity="1"/>
<path d="M1016.0,349.0 1020.0,350.0 1024.0,354.0 1028.0,357.0 1026.0,359.0 1022.0,358.0 1018.0,354.0Z" fill="#a10000" stroke="#a10000" stroke-width="0.6" stroke-opacity="1"/>
<path d="M1034.0,352.0 1038.0,348.0 1042.0,344.0 1044.0,348.0 1042.0,352.0 1038.0,354.0Z" fill="#a10000" stroke="#a10000" stroke-width="0.6" stroke-opacity="1"/>
<path d="M1048.0,338.0 1050.0,336.0 1052.0,338.0 1051.0,341.0 1049.0,341.0Z" fill="#a10000" stroke="#a10000" stroke-width="0.6" stroke-opacity="1"/>
<path d="M1056.0,332.0 1058.0,331.0 1058.0,334.0 1056.0,335.0Z" fill="#a10000" stroke="#a10000" stroke-width="0.6" stroke-opacity="1"/>
<path d="M812.6,372.3 819.0,372.3 822.2,370.2 825.4,372.3 830.7,373.4 833.9,375.5 838.2,374.4 842.5,376.6 841.4,370.2 840.3,365.9 838.2,362.7 842.5,356.3 846.7,354.2 855.3,353.6 858.5,354.2 860.6,359.5 860.6,364.8 861.7,370.2 865.9,375.5 868.1,379.8 870.2,384.0 876.6,389.4 883.0,393.6 889.4,392.6 895.8,388.3 900.0,387.0 903.0,390.0 900.0,394.0 898.0,402.0 896.0,410.0 890.0,416.0 884.0,418.0 876.0,422.0 868.0,424.0 862.0,424.0 858.0,418.0 855.0,411.0 852.0,414.0 848.0,420.0 844.0,424.0 840.0,422.0 838.0,414.0 835.0,407.0 831.0,401.0 828.0,397.0 825.0,392.0 823.0,388.0 819.0,386.0 815.0,385.0 812.6,381.0 813.6,376.6Z" fill="#a10000"/>
<path d="M968.0,317.6 976.0,326.0 984.0,334.0 992.0,342.0 998.0,350.0 996.0,353.0 990.0,354.4 984.0,355.6 980.0,357.0 977.0,360.0 974.0,364.0 970.0,369.0 962.0,368.0 950.0,364.0 940.0,360.0 938.0,358.0 940.0,352.0 944.0,346.0 946.0,338.0 952.0,334.0 956.0,326.0Z" fill="#a10000"/>
<path d="M961.9,345.4 965.4,339.7 969.7,336.9 974.0,337.6 978.2,339.7 982.5,344.0 986.0,348.0 987.0,351.0 982.0,353.0 978.0,356.0 976.8,359.6 974.0,362.5 971.1,359.6 969.7,355.4 965.4,352.5 962.6,349.7Z M1196.7,358.0 1200.7,352.0 1204.7,350.0 1208.0,350.7 1207.3,353.3 1202.7,356.0 1199.3,358.7Z M1219.3,358.7 1221.3,357.3 1224.0,360.0 1225.3,363.3 1224.0,364.0Z" fill="#fff"/>
</g>
<g style="font-family:'Liberation Sans',sans-serif;font-size:13.4px;font-weight:normal" text-anchor="middle">
<text x="1013.0" y="194.8" fill="#fff" stroke="#fff" stroke-width="0.45">179</text>
<text x="1059.4" y="173.4" fill="#2a1414" stroke="#2a1414" stroke-width="0.45">4</text>
<text x="1078.0" y="196.4" fill="#2a1414" stroke="#2a1414" stroke-width="0.45">54</text>
<text x="1105.6" y="180.2" fill="#fff" stroke="#fff" stroke-width="0.45">236</text>
<text x="1146.0" y="191.2" fill="#fff" stroke="#fff" stroke-width="0.45">177</text>
<text x="1195.4" y="190.2" fill="#fff" stroke="#fff" stroke-width="0.45">167</text>
<text x="959.0" y="197.8" fill="#2a1414" stroke="#2a1414" stroke-width="0.45">7</text>
<text x="985.6" y="227.4" fill="#2a1414" stroke="#2a1414" stroke-width="0.45">49</text>
<text x="1010.4" y="249.2" fill="#2a1414" stroke="#2a1414" stroke-width="0.45">16</text>
<text x="1129.0" y="274.8" fill="#2a1414" stroke="#2a1414" stroke-width="0.45">4</text>
<text x="911.3" y="208.5" fill="#2a1414" stroke="#2a1414" stroke-width="0.45">24</text>
<text x="873.0" y="219.8" fill="#2a1414" stroke="#2a1414" stroke-width="0.45">4</text>
<text x="922.0" y="239.1" fill="#2a1414" stroke="#2a1414" stroke-width="0.45">45</text>
<text x="889.3" y="257.1" fill="#2a1414" stroke="#2a1414" stroke-width="0.45">2</text>
<text x="932.7" y="261.8" fill="#2a1414" stroke="#2a1414" stroke-width="0.45">61</text>
<text x="875.4" y="314.8" fill="#2a1414" stroke="#2a1414" stroke-width="0.45">35</text>
<text x="936.4" y="314.8" fill="#fff" stroke="#fff" stroke-width="0.45">251</text>
<text x="897.4" y="344.4" fill="#2a1414" stroke="#2a1414" stroke-width="0.45">83</text>
<text x="952.4" y="360.4" fill="#fff" stroke="#fff" stroke-width="0.45">141</text>
<text x="926.0" y="381.2" fill="#2a1414" stroke="#2a1414" stroke-width="0.45">3</text>
<text x="854.0" y="397.8" fill="#fff" stroke="#fff" stroke-width="0.45">163</text>
<text x="918.0" y="409.4" fill="#2a1414" stroke="#2a1414" stroke-width="0.45">70</text>
<text x="1029.0" y="408.8" fill="#2a1414" stroke="#2a1414" stroke-width="0.45">7</text>
<text x="788.0" y="417.4" fill="#2a1414" stroke="#2a1414" stroke-width="0.45">3</text>
<text x="898.0" y="449.2" fill="#fff" stroke="#fff" stroke-width="0.45">189</text>
<text x="950.0" y="466.8" fill="#2a1414" stroke="#2a1414" stroke-width="0.45">2</text>
<text x="869.6" y="478.2" fill="#2a1414" stroke="#2a1414" stroke-width="0.45">61</text>
<text x="1109.0" y="453.8" fill="#2a1414" stroke="#2a1414" stroke-width="0.45">1</text>
<text x="1209.0" y="329.6" fill="#2a1414" stroke="#2a1414" stroke-width="0.45">2</text>
<text x="1128.5" y="699.1" fill="#2a1414" stroke="#2a1414" stroke-width="0.45">2</text>
</g>
</svg>
<div id="legend"><span>ΚΡΟΥΣΜΑΤΑ</span></div>
<div id="foot"></div>
<svg id="emb" width="60" height="60" viewBox="0 0 60 60" style="position:absolute;left:111.5px;top:765px">
<circle cx="30" cy="30" r="24.3" fill="none" stroke="#6c79ad" stroke-width="0.8"/>
<g fill="#b4bcda" stroke="#e6e9f5" stroke-width="0.35">
<ellipse cx="36.83" cy="51.02" rx="2.6" ry="1.3" transform="rotate(197.0 36.83 51.02)"/><ellipse cx="38.19" cy="55.20" rx="2.6" ry="1.3" transform="rotate(127.0 38.19 55.20)"/><ellipse cx="41.22" cy="49.04" rx="2.6" ry="1.3" transform="rotate(184.5 41.22 49.04)"/><ellipse cx="43.45" cy="52.83" rx="2.6" ry="1.3" transform="rotate(114.5 43.45 52.83)"/><ellipse cx="45.07" cy="46.16" rx="2.6" ry="1.3" transform="rotate(172.0 45.07 46.16)"/><ellipse cx="48.07" cy="49.38" rx="2.6" ry="1.3" transform="rotate(102.0 48.07 49.38)"/><ellipse cx="48.21" cy="42.52" rx="2.6" ry="1.3" transform="rotate(159.5 48.21 42.52)"/><ellipse cx="51.84" cy="45.01" rx="2.6" ry="1.3" transform="rotate(89.5 51.84 45.01)"/><ellipse cx="50.49" cy="38.28" rx="2.6" ry="1.3" transform="rotate(147.0 50.49 38.28)"/><ellipse cx="54.57" cy="39.93" rx="2.6" ry="1.3" transform="rotate(77.0 54.57 39.93)"/><ellipse cx="51.80" cy="33.65" rx="2.6" ry="1.3" transform="rotate(134.5 51.80 33.65)"/><ellipse cx="56.14" cy="34.37" rx="2.6" ry="1.3" transform="rotate(64.5 56.14 34.37)"/><ellipse cx="52.07" cy="28.84" rx="2.6" ry="1.3" transform="rotate(122.0 52.07 28.84)"/><ellipse cx="56.46" cy="28.61" rx="2.6" ry="1.3" transform="rotate(52.0 56.46 28.61)"/><ellipse cx="51.30" cy="24.09" rx="2.6" ry="1.3" transform="rotate(109.5 51.30 24.09)"/><ellipse cx="55.54" cy="22.92" rx="2.6" ry="1.3" transform="rotate(39.5 55.54 22.92)"/><ellipse cx="49.51" cy="19.62" rx="2.6" ry="1.3" transform="rotate(97.0 49.51 19.62)"/><ellipse cx="53.40" cy="17.56" rx="2.6" ry="1.3" transform="rotate(27.0 53.40 17.56)"/><ellipse cx="46.80" cy="15.65" rx="2.6" ry="1.3" transform="rotate(84.5 46.80 15.65)"/><ellipse cx="50.15" cy="12.79" rx="2.6" ry="1.3" transform="rotate(14.5 50.15 12.79)"/><ellipse cx="43.30" cy="12.35" rx="2.6" ry="1.3" transform="rotate(72.0 43.30 12.35)"/><ellipse cx="45.95" cy="8.84" rx="2.6" ry="1.3" transform="rotate(2.0 45.95 8.84)"/><ellipse cx="39.16" cy="9.89" rx="2.6" ry="1.3" transform="rotate(59.5 39.16 9.89)"/><ellipse cx="40.99" cy="5.89" rx="2.6" ry="1.3" transform="rotate(-10.5 40.99 5.89)"/><ellipse cx="34.59" cy="8.38" rx="2.6" ry="1.3" transform="rotate(47.0 34.59 8.38)"/><ellipse cx="35.51" cy="4.08" rx="2.6" ry="1.3" transform="rotate(-23.0 35.51 4.08)"/><ellipse cx="23.17" cy="51.02" rx="2.6" ry="1.3" transform="rotate(163.0 23.17 51.02)"/><ellipse cx="21.81" cy="55.20" rx="2.6" ry="1.3" transform="rotate(233.0 21.81 55.20)"/><ellipse cx="18.78" cy="49.04" rx="2.6" ry="1.3" transform="rotate(175.5 18.78 49.04)"/><ellipse cx="16.55" cy="52.83" rx="2.6" ry="1.3" transform="rotate(245.5 16.55 52.83)"/><ellipse cx="14.93" cy="46.16" rx="2.6" ry="1.3" transform="rotate(188.0 14.93 46.16)"/><ellipse cx="11.93" cy="49.38" rx="2.6" ry="1.3" transform="rotate(258.0 11.93 49.38)"/><ellipse cx="11.79" cy="42.52" rx="2.6" ry="1.3" transform="rotate(200.5 11.79 42.52)"/><ellipse cx="8.16" cy="45.01" rx="2.6" ry="1.3" transform="rotate(270.5 8.16 45.01)"/><ellipse cx="9.51" cy="38.28" rx="2.6" ry="1.3" transform="rotate(213.0 9.51 38.28)"/><ellipse cx="5.43" cy="39.93" rx="2.6" ry="1.3" transform="rotate(283.0 5.43 39.93)"/><ellipse cx="8.20" cy="33.65" rx="2.6" ry="1.3" transform="rotate(225.5 8.20 33.65)"/><ellipse cx="3.86" cy="34.37" rx="2.6" ry="1.3" transform="rotate(295.5 3.86 34.37)"/><ellipse cx="7.93" cy="28.84" rx="2.6" ry="1.3" transform="rotate(238.0 7.93 28.84)"/><ellipse cx="3.54" cy="28.61" rx="2.6" ry="1.3" transform="rotate(308.0 3.54 28.61)"/><ellipse cx="8.70" cy="24.09" rx="2.6" ry="1.3" transform="rotate(250.5 8.70 24.09)"/><ellipse cx="4.46" cy="22.92" rx="2.6" ry="1.3" transform="rotate(320.5 4.46 22.92)"/><ellipse cx="10.49" cy="19.62" rx="2.6" ry="1.3" transform="rotate(263.0 10.49 19.62)"/><ellipse cx="6.60" cy="17.56" rx="2.6" ry="1.3" transform="rotate(333.0 6.60 17.56)"/><ellipse cx="13.20" cy="15.65" rx="2.6" ry="1.3" transform="rotate(275.5 13.20 15.65)"/><ellipse cx="9.85" cy="12.79" rx="2.6" ry="1.3" transform="rotate(345.5 9.85 12.79)"/><ellipse cx="16.70" cy="12.35" rx="2.6" ry="1.3" transform="rotate(288.0 16.70 12.35)"/><ellipse cx="14.05" cy="8.84" rx="2.6" ry="1.3" transform="rotate(358.0 14.05 8.84)"/><ellipse cx="20.84" cy="9.89" rx="2.6" ry="1.3" transform="rotate(300.5 20.84 9.89)"/><ellipse cx="19.01" cy="5.89" rx="2.6" ry="1.3" transform="rotate(370.5 19.01 5.89)"/><ellipse cx="25.41" cy="8.38" rx="2.6" ry="1.3" transform="rotate(313.0 25.41 8.38)"/><ellipse cx="24.49" cy="4.08" rx="2.6" ry="1.3" transform="rotate(383.0 24.49 4.08)"/>
</g>
<path d="M25,54 L30,50.5 L35,54 M27,55.5 L30,52 L33,55.5" stroke="#c8cfe6" stroke-width="1.2" fill="none"/>
<path d="M14.5,15 H44.5 V38 Q44.5,42 40,43 L32,44.5 L30,46 L28,44.5 L20,43 Q14.5,42 14.5,38 Z" fill="#c4cbe4"/>
<g stroke="#6272ad" stroke-width="0.9">
<path d="M15,17.5H44 M15,19.8H44 M15,22.1H44 M15,24.4H44 M15,35.3H44 M15,37.6H44 M15,39.9H44"/>
</g>
<rect x="25.6" y="15" width="7.8" height="30.5" fill="#fff"/>
<rect x="14.5" y="27" width="30" height="6.3" fill="#fff"/>
</svg>
<div class="ft" style="left:183px;top:773.5px;font-size:11.6px;font-weight:bold;letter-spacing:0.7px">ΕΛΛΗΝΙΚΗ ΔΗΜΟΚΡΑΤΙΑ</div>
<div class="ft" style="left:183px;top:789px;font-size:13px;line-height:17px;-webkit-text-stroke:0.2px #fff">Υπουργείο Αγροτικής Ανάπτυξης<br>και Τροφίμων</div>
<div class="ft" style="left:1158px;top:781.5px;font-size:13.65px;line-height:16px">Εθνική Επιστημονική Επιτροπή<br>Διαχείρισης και Ελέγχου της Ευλογιάς</div>
</body></html>
